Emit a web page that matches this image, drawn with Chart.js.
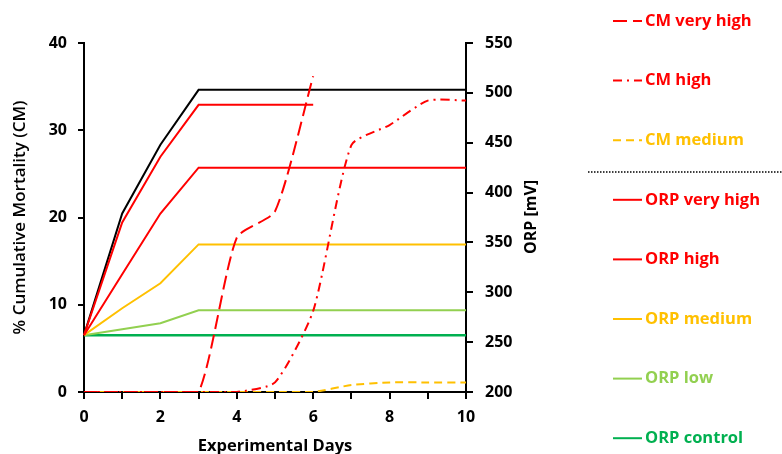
<!DOCTYPE html>
<html>
<head>
<meta charset="utf-8">
<script src="https://cdn.jsdelivr.net/npm/chart.js@4/dist/chart.umd.min.js"></script>
<style>
  html, body { margin: 0; padding: 0; background: #fff; }
  canvas { display: block; }
</style>
</head>
<body>
<canvas id="chart" width="782" height="454"></canvas>
<script>
"use strict";

const days = [0, 1, 2, 3, 4, 5, 6, 7, 8, 9, 10];

// % cumulative mortality, left axis
const cmVeryHigh = [0, 0, 0, 0, 17.7, 20.7, 36.2, null, null, null, null];
const cmHigh = [0, 0, 0, 0, 0, 1.1, 9.3, 28.3, 30.6, 33.4, 33.4];
const cmMedium = [0, 0, 0, 0, 0, 0, 0, 0.8, 1.1, 1.1, 1.1];

// ORP in mV, right axis
const orpBlack = [257, 379, 448, 503, 503, 503, 503, 503, 503, 503, 503];
const orpVeryHigh = [257, 370, 436, 488, 488, 488, 488, null, null, null, null];
const orpHigh = [257, 318, 379, 425, 425, 425, 425, 425, 425, 425, 425];
const orpMedium = [257, 284, 309, 348, 348, 348, 348, 348, 348, 348, 348];
const orpLow = [257, 263, 269, 282, 282, 282, 282, 282, 282, 282, 282];
const orpControl = [257, 257, 257, 257, 257, 257, 257, 257, 257, 257, 257];

const RED = "#ff0000", GOLD = "#ffc000", LGREEN = "#92d050", GREEN = "#00b050";
const FONT = "'Open Sans', 'DejaVu Sans', sans-serif";

function cm(label, data, color, dash) {
  return {
    label: label, data: data, yAxisID: "y",
    borderColor: color, borderWidth: 2, borderDash: dash,
    tension: 0.2, pointRadius: 0, spanGaps: false
  };
}
function orp(label, data, color, width) {
  return {
    label: label, data: data, yAxisID: "y2",
    borderColor: color, borderWidth: width || 2, tension: 0, pointRadius: 0
  };
}

const datasets = [
  cm("CM very high", cmVeryHigh, RED, [14, 6]),
  cm("CM high", cmHigh, RED, [9, 5, 2, 5]),
  cm("CM medium", cmMedium, GOLD, [8, 5]),
  orp("ORP very high", orpVeryHigh, RED),
  orp("ORP high", orpHigh, RED),
  orp("ORP medium", orpMedium, GOLD),
  orp("ORP low", orpLow, LGREEN),
  orp("ORP control", orpControl, GREEN, 2.5),
  Object.assign(orp("", orpBlack, "#000"), { noLegend: true })
];

// legend at the right with coloured text and a dotted divider
const sideLegend = {
  id: "sideLegend",
  afterDraw(chart) {
    const ctx = chart.ctx;
    const items = chart.data.datasets.filter(d => !d.noLegend);
    ctx.save();
    ctx.font = "bold 16.5px " + FONT;
    ctx.textBaseline = "middle";
    items.forEach((d, i) => {
      const y = 21 + i * 59.6;
      ctx.strokeStyle = d.borderColor;
      ctx.lineWidth = 2;
      ctx.setLineDash(d.borderDash || []);
      ctx.beginPath();
      ctx.moveTo(613, y);
      ctx.lineTo(642, y);
      ctx.stroke();
      ctx.fillStyle = d.borderColor;
      ctx.fillText(d.label, 645, y);
    });
    ctx.setLineDash([1.5, 1.5]);
    ctx.strokeStyle = "#000";
    ctx.lineWidth = 1.5;
    ctx.beginPath();
    ctx.moveTo(588, 172);
    ctx.lineTo(782, 172);
    ctx.stroke();
    ctx.setLineDash([]);
    // right axis title, reading upward
    ctx.translate(531, 217);
    ctx.rotate(-Math.PI / 2);
    ctx.textAlign = "center";
    ctx.fillStyle = "#000";
    ctx.font = "bold 16px " + FONT;
    ctx.fillText("ORP [mV]", 0, 0);
    ctx.restore();
  }
};

const tickFont = { family: FONT, size: 16, weight: "bold" };

new Chart("chart", {
  type: "line",
  data: { labels: days, datasets: datasets },
  plugins: [sideLegend],
  options: {
    responsive: false,
    animation: false,
    devicePixelRatio: 1,
    layout: { padding: { top: 43, right: 216, left: 0, bottom: 0 } },
    plugins: { legend: { display: false }, tooltip: { enabled: false } },
    scales: {
      x: {
        type: "category",
        grid: { drawOnChartArea: false, drawTicks: true, tickLength: 7, color: "#000", lineWidth: 2 },
        border: { color: "#000", width: 2 },
        ticks: {
          color: "#000", font: tickFont, padding: 9, autoSkip: false, maxRotation: 0,
          callback: (v, i) => (i % 2 ? "" : days[i])
        },
        title: {
          display: true, text: "Experimental Days", color: "#000",
          font: { family: FONT, size: 16.5, weight: "bold" }, padding: { top: 0, bottom: -2 }
        },
        afterFit: s => { s.height = 62; }
      },
      y: {
        position: "left", min: 0, max: 40,
        grid: { drawOnChartArea: false, drawTicks: true, tickLength: 6, color: "#000", lineWidth: 2 },
        border: { color: "#000", width: 2, dash: [7, 5] },
        ticks: { stepSize: 10, color: "#000", font: tickFont, padding: 11 },
        title: {
          display: true, text: "% Cumulative Mortality (CM)", color: "#000",
          font: { family: FONT, size: 17, weight: "600" }, padding: { top: 10, bottom: 0 }
        },
        afterFit: s => { s.width = 84; }
      },
      y2: {
        position: "right", min: 200, max: 550,
        grid: { drawOnChartArea: false, drawTicks: true, tickLength: 7, color: "#000", lineWidth: 2 },
        border: { color: "#000", width: 2 },
        ticks: { stepSize: 50, color: "#000", font: tickFont, padding: 12 },
        afterFit: s => { s.width = 100; }
      }
    }
  }
});
</script>
</body>
</html>
